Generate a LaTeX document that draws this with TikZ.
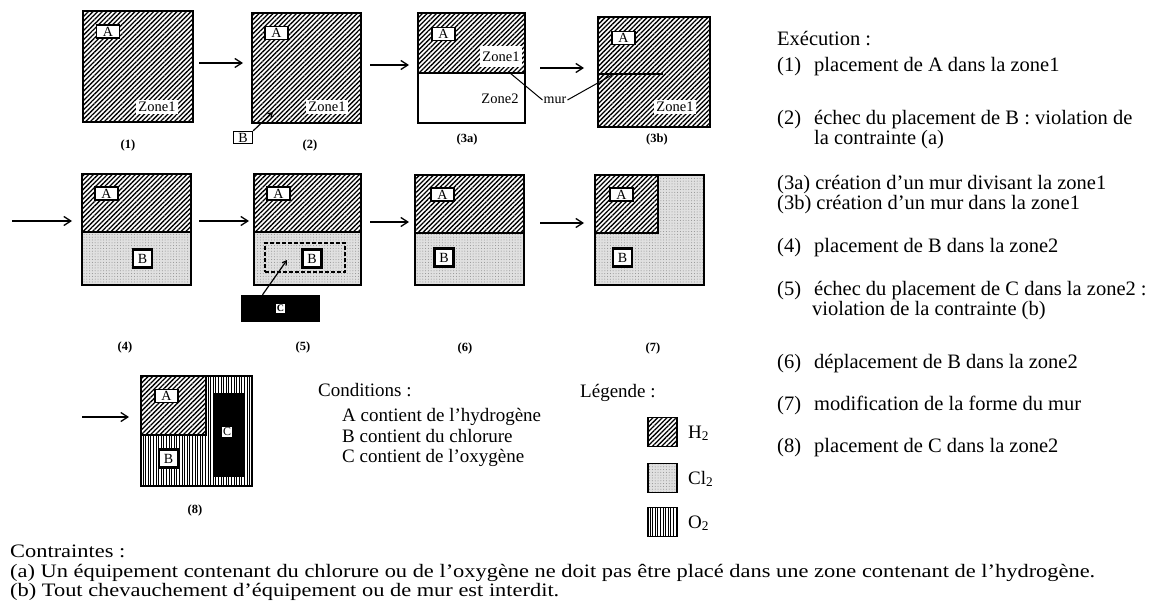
\documentclass[tikz,border=0pt]{standalone}
\usepackage{fontspec}
\setmainfont{Liberation Serif}
\usetikzlibrary{patterns.meta,arrows.meta,calc}
\newlength\wa
\begin{document}
\begin{tikzpicture}[x=1pt,y=-1pt]
\tikzset{
  zone/.style={draw, line width=1.7pt, inner sep=0pt, outer sep=0pt},
  hyd/.style={pattern={Lines[angle=45,distance=3.3pt,line width=1.3pt]}},
  chl/.style={preaction={fill=black!12}, pattern={Dots[distance=2.8pt,radius=0.5pt]}, pattern color=black!45},
  oxy/.style={pattern={Lines[angle=90,distance=2.6pt,line width=1pt]}},
  lab/.style={draw, fill=white, line width=1.4pt, inner sep=0pt, minimum width=23pt, minimum height=13pt, font=\fontsize{14}{14}\selectfont},
  blab/.style={lab, line width=2.6pt, minimum width=19pt, minimum height=18pt},
  zl/.style={fill=white, inner sep=2pt, font=\fontsize{14.5}{14.5}\selectfont},
  steplabel/.style={font=\fontsize{12.5}{12.5}\selectfont\bfseries},
  arr/.style={-{Straight Barb[length=7pt,width=9pt]}, line width=1.3pt},
  sarr/.style={-{Straight Barb[length=4pt,width=5pt]}, line width=1.2pt},
  wall/.style={line width=2pt},
  txt/.style={anchor=base west, inner sep=0pt, font=\fontsize{20.5}{20.5}\selectfont},
  mtxt/.style={anchor=base west, inner sep=0pt, font=\fontsize{19}{19}\selectfont},
  ctx/.style={anchor=base west, inner sep=0pt},
}
\fill[white] (0,0) rectangle (1151,604);
\useasboundingbox (0,0) rectangle (1151,604);
\node[inner sep=0pt] (meas) at (0,0) {\settowidth\wa{\fontsize{19}{19}\selectfont (a) Un équipement contenant du chlorure ou de l'oxygène ne doit pas être placé dans une zone contenant de l'hydrogène.}\global\wa=\wa};
\pgfmathsetmacro\sfac{1085/\wa}

% ---------- (1)
\node[zone, hyd, minimum width=110pt, minimum height=111pt] (z1) at (138,66.5) {};
\node[lab] (a1) at (108,31.5) {A};
\node[zl] (zn1) at (157,107) {Zone1};
\node[steplabel] (c1) at (128,145) {(1)};
\coordinate (p1s) at (199,63); \coordinate (p1e) at (243,63);
\draw[arr] (p1s) -- (p1e);

% ---------- (2)
\node[zone, hyd, minimum width=109pt, minimum height=110pt] (z2) at (306.5,68) {};
\node[lab] (a2) at (276.5,33) {A};
\node[zl] (zn2) at (327,107) {Zone1};
\node[lab, minimum width=19pt, minimum height=12pt] (b2) at (243,137.5) {B};
\coordinate (b2t) at (273,112);
\draw[sarr] (b2.north east) -- (b2t);
\node[steplabel] (c2) at (310,145) {(2)};
\coordinate (p2s) at (370,65); \coordinate (p2e) at (409,65);
\draw[arr] (p2s) -- (p2e);

% ---------- (3a)
\fill[hyd] (418,13) rectangle (525,73);
\node[zone, minimum width=107pt, minimum height=110pt] (z3a) at (471.5,68) {};
\draw[wall] (418,73) -- (525,73);
\node[lab] (a3a) at (443.5,34) {A};
\node[zl, minimum height=21pt] (zn3a) at (501,57) {Zone1};
\node[zl] (zn3a2) at (500,99) {Zone2};
\node[steplabel] (c3a) at (467,139) {(3a)};
\node[font=\fontsize{14}{14}\selectfont, inner sep=1pt] (mur) at (555,100) {mur};
\coordinate (w3a) at (510,73); \coordinate (w3b) at (612,75);
\draw[line width=1pt] (mur.west) -- (w3a);
\draw[line width=1pt] (mur.east) -- (w3b);
\coordinate (p3s) at (540,68); \coordinate (p3e) at (584,68);
\draw[arr] (p3s) -- (p3e);

% ---------- (3b)
\node[zone, hyd, minimum width=112pt, minimum height=110pt] (z3b) at (654,72) {};
\draw[wall] (598,74) -- (663,74);
\node[lab] (a3b) at (623.5,38) {A};
\node[zl] (zn3b) at (675,107) {Zone1};
\node[steplabel] (c3b) at (657,139) {(3b)};

% ---------- (4)
\coordinate (p4s) at (12,221); \coordinate (p4e) at (72,221);
\draw[arr] (p4s) -- (p4e);
\fill[hyd] (82,174) rectangle (191,232);
\fill[chl] (82,232) rectangle (191,285);
\node[zone, minimum width=109pt, minimum height=111pt] (z4) at (136.5,229.5) {};
\draw[wall] (82,232) -- (191,232);
\node[lab] (a4) at (106.5,193.5) {A};
\node[blab] (b4) at (142.5,258.5) {B};
\node[steplabel] (c4) at (125,347) {(4)};
\coordinate (p5s) at (199,221); \coordinate (p5e) at (249,221);
\draw[arr] (p5s) -- (p5e);

% ---------- (5)
\fill[hyd] (254,174) rectangle (361,232);
\fill[chl] (254,232) rectangle (361,285);
\node[zone, minimum width=107pt, minimum height=111pt] (z5) at (307.5,229.5) {};
\draw[wall] (254,232) -- (361,232);
\node[lab] (a5) at (278.5,193.5) {A};
\node[draw, line width=1.5pt, dash pattern=on 4pt off 2pt, minimum width=80pt, minimum height=29pt, inner sep=0pt] (d5) at (305,257.5) {};
\node[blab] (b5) at (312,258.5) {B};
\node[fill=black, minimum width=79pt, minimum height=27pt, inner sep=0pt] (cc5) at (280.5,308.5) {};
\node[fill=white, inner sep=1pt, font=\fontsize{10}{10}\selectfont\bfseries] (cl5) at (cc5) {C};
\coordinate (c5t) at (287,260);
\draw[sarr] ([xshift=-18pt]cc5.north) -- (c5t);
\node[steplabel] (c5) at (303,347) {(5)};
\coordinate (p6s) at (370,222); \coordinate (p6e) at (409,222);
\draw[arr] (p6s) -- (p6e);

% ---------- (6)
\fill[hyd] (415,175) rectangle (524,233);
\fill[chl] (415,233) rectangle (524,285);
\node[zone, minimum width=109pt, minimum height=110pt] (z6) at (469.5,230) {};
\draw[wall] (415,233) -- (524,233);
\node[lab] (a6) at (442.5,194.5) {A};
\node[blab] (b6) at (444,257.5) {B};
\node[steplabel] (c6) at (465,348) {(6)};
\coordinate (p7s) at (540,223); \coordinate (p7e) at (584,223);
\draw[arr] (p7s) -- (p7e);

% ---------- (7)
\fill[chl] (595,175) rectangle (704,285);
\fill[white] (595,175) rectangle (658,233);
\fill[hyd] (595,175) rectangle (658,233);
\node[zone, minimum width=109pt, minimum height=110pt] (z7) at (649.5,230) {};
\draw[wall] (595,233) -- (658,233) -- (658,175);
\node[lab] (a7) at (621.5,194.5) {A};
\node[blab] (b7) at (622.5,257.5) {B};
\node[steplabel] (c7) at (653,348) {(7)};

% ---------- (8)
\coordinate (p8s) at (82,417); \coordinate (p8e) at (129,417);
\draw[arr] (p8s) -- (p8e);
\fill[oxy] (141,376) rectangle (252,486);
\fill[white] (141,376) rectangle (206,435);
\fill[hyd] (141,376) rectangle (206,435);
\node[zone, minimum width=111pt, minimum height=110pt] (z8) at (196.5,431) {};
\draw[wall] (141,435) -- (206,435) -- (206,376);
\node[fill=black, minimum width=32pt, minimum height=84pt, inner sep=0pt] (cc8) at (229,435) {};
\node[fill=white, inner sep=1pt, font=\fontsize{12}{12}\selectfont] (cl8) at (227,432) {C};
\node[lab] (a8) at (166.5,396) {A};
\node[blab] (b8) at (168.5,458.5) {B};
\node[steplabel] (c8) at (195,510) {(8)};

% ---------- Conditions
\node[mtxt] (cond) at (318,396) {Conditions :};
\node[mtxt] (cA) at (342,421) {A contient de l'hydrogène};
\node[mtxt] (cB) at (342,442) {B contient du chlorure};
\node[mtxt] (cC) at (342,462) {C contient de l'oxygène};

% ---------- Legend
\node[mtxt] (leg) at (580,397) {Légende :};
\node[zone, hyd, minimum width=29pt, minimum height=29pt] (lh) at (662.5,432) {};
\node[mtxt] (lht) at (688,438) {H\textsubscript{2}};
\node[zone, chl, minimum width=29pt, minimum height=29pt] (lc) at (662.5,478) {};
\node[mtxt] (lct) at (688,484) {Cl\textsubscript{2}};
\node[zone, oxy, minimum width=29pt, minimum height=29pt] (lo) at (662.5,522) {};
\node[mtxt] (lot) at (688,528) {O\textsubscript{2}};

% ---------- Execution text
\node[txt] (ex) at (777,46) {Exécution :};
\node[txt] (e1) at (777,72) {(1)};
\node[txt] (e1t) at (814,72) {placement de A dans la zone1};
\node[txt] (e2) at (777,125) {(2)};
\node[txt] (e2t) at (814,125) {échec du placement de B : violation de};
\node[txt] (e2u) at (814,145) {la contrainte (a)};
\node[txt] (e3a) at (777,190) {(3a) création d'un mur divisant la zone1};
\node[txt] (e3b) at (777,210) {(3b) création d'un mur dans la zone1};
\node[txt] (e4) at (777,252) {(4)};
\node[txt] (e4t) at (814,252) {placement de B dans la zone2};
\node[txt] (e5) at (777,295) {(5)};
\node[txt] (e5t) at (814,295) {échec du placement de C dans la zone2 :};
\node[txt] (e5u) at (812,315) {violation de la contrainte (b)};
\node[txt] (e6) at (777,368) {(6)};
\node[txt] (e6t) at (814,368) {déplacement de B dans la zone2};
\node[txt] (e7) at (777,410) {(7)};
\node[txt] (e7t) at (814,410) {modification de la forme du mur};
\node[txt] (e8) at (777,452) {(8)};
\node[txt] (e8t) at (814,452) {placement de C dans la zone2};

% ---------- Contraintes
\node[ctx] (k0) at (10,557) {\scalebox{\sfac}[1]{\fontsize{19}{19}\selectfont Contraintes :}};
\node[ctx] (ka) at (10,577) {\scalebox{\sfac}[1]{\fontsize{19}{19}\selectfont (a) Un équipement contenant du chlorure ou de l'oxygène ne doit pas être placé dans une zone contenant de l'hydrogène.}};
\node[ctx] (kb) at (10,596) {\scalebox{\sfac}[1]{\fontsize{19}{19}\selectfont (b) Tout chevauchement d'équipement ou de mur est interdit.}};
\end{tikzpicture}
\end{document}
